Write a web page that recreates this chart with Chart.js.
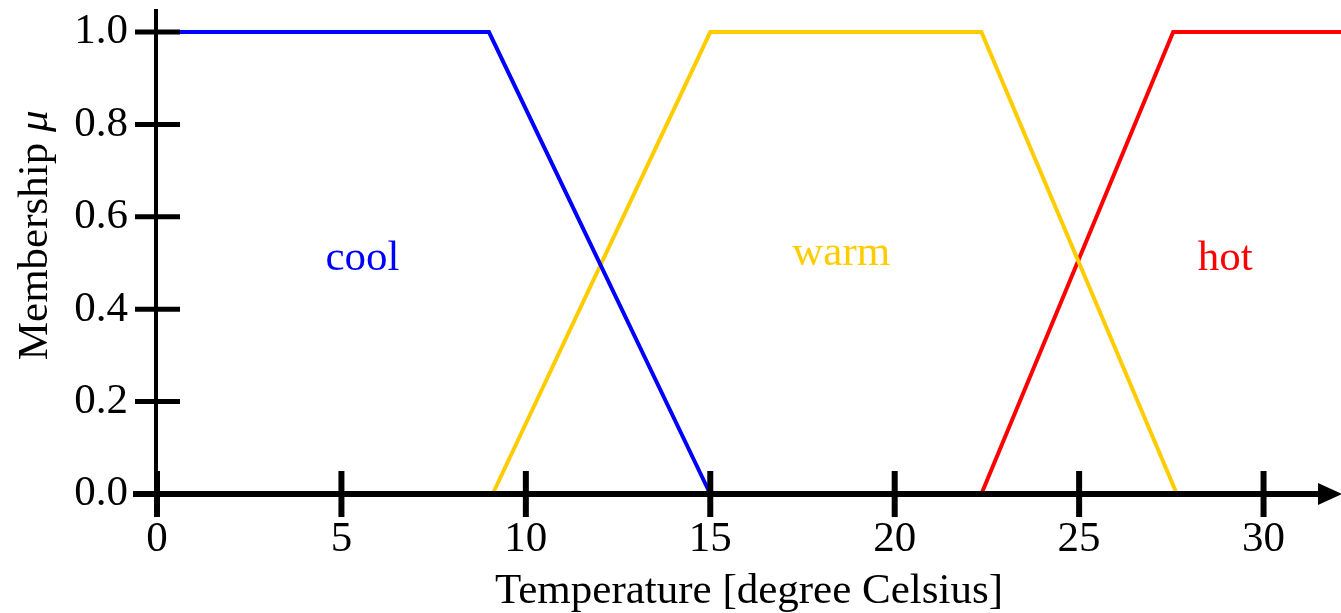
<!DOCTYPE html>
<html>
<head>
<meta charset="utf-8">
<script src="https://cdn.jsdelivr.net/npm/chart.js@4/dist/chart.umd.min.js"></script>
<style>
  html, body { margin: 0; padding: 0; background: #fff; }
  #wrap { width: 1341px; height: 613px; }
</style>
</head>
<body>
<div id="wrap"><canvas id="fuzzyChart" width="1341" height="613"></canvas></div>
<script>
// membership functions (temperature in degree Celsius -> mu)
const coolX = [0, 9, 15];
const coolY = [1, 1, 0];
const warmX = [9.1, 15, 22.35, 27.65];
const warmY = [0, 1, 1, 0];
const hotX = [22.35, 27.55, 32.1];
const hotY = [0, 1, 1];

const xTicks = [0, 5, 10, 15, 20, 25, 30];
const yTicks = [0, 0.2, 0.4, 0.6, 0.8, 1.0];

const setNames = ['cool', 'warm', 'hot'];
const setColors = ['#0000ff', '#ffcc00', '#ff0000'];
const labelX = [5.57, 18.55, 28.96];
const labelY = [0.51, 0.52, 0.51];

const serif = "'Liberation Serif', 'Times New Roman', serif";

function toPoints(xs, ys) {
    return xs.map((x, i) => ({ x: x, y: ys[i] }));
}

// axes with crossing ticks and an arrow, drawn on top of the lines
const axesPlugin = {
    id: 'axes',
    afterDatasetsDraw(chart) {
        const { ctx, scales: { x, y }, chartArea } = chart;
        const x0 = x.getPixelForValue(0);
        const y0 = y.getPixelForValue(0);
        ctx.save();
        ctx.strokeStyle = '#000';
        ctx.fillStyle = '#000';

        // y axis
        ctx.lineWidth = 4;
        ctx.beginPath();
        ctx.moveTo(x0 - 1, y.getPixelForValue(1.05));
        ctx.lineTo(x0 - 1, y0);
        ctx.stroke();

        // y ticks
        ctx.lineWidth = 5;
        yTicks.forEach(v => {
            const py = y.getPixelForValue(v);
            ctx.beginPath();
            ctx.moveTo(x0 - 22, py);
            ctx.lineTo(x0 + 23, py);
            ctx.stroke();
        });

        // x axis with arrow
        const tip = chartArea.right;
        ctx.lineWidth = 6;
        ctx.beginPath();
        ctx.moveTo(x0 - 24, y0);
        ctx.lineTo(tip - 20, y0);
        ctx.stroke();
        ctx.beginPath();
        ctx.moveTo(tip + 1, y0);
        ctx.lineTo(tip - 23, y0 - 11);
        ctx.lineTo(tip - 23, y0 + 11);
        ctx.closePath();
        ctx.fill();

        // x ticks
        ctx.lineWidth = 6;
        xTicks.forEach(v => {
            const px = x.getPixelForValue(v);
            ctx.beginPath();
            ctx.moveTo(px, y0 - 23);
            ctx.lineTo(px, y0 + 23);
            ctx.stroke();
        });

        // set names
        ctx.font = '43px ' + serif;
        ctx.textAlign = 'center';
        ctx.textBaseline = 'middle';
        setNames.forEach((name, i) => {
            ctx.fillStyle = setColors[i];
            ctx.fillText(name, x.getPixelForValue(labelX[i]), y.getPixelForValue(labelY[i]));
        });

        // y axis title, mu in italics
        ctx.translate(36, y.getPixelForValue(0.56));
        ctx.rotate(-Math.PI / 2);
        ctx.fillStyle = '#000';
        ctx.textAlign = 'left';
        const word = 'Membership ';
        ctx.font = '43px ' + serif;
        const w1 = ctx.measureText(word).width;
        ctx.font = 'italic 43px ' + serif;
        const w2 = ctx.measureText('μ').width;
        const start = -(w1 + w2) / 2;
        ctx.font = '43px ' + serif;
        ctx.fillText(word, start, 0);
        ctx.font = 'italic 43px ' + serif;
        ctx.fillText('μ', start + w1, 0);
        ctx.restore();
    }
};

const lineStyle = { borderWidth: 4, pointRadius: 0, fill: false, tension: 0, clip: false };

new Chart(document.getElementById('fuzzyChart'), {
    type: 'line',
    data: {
        datasets: [
            { label: 'cool', data: toPoints(coolX, coolY), borderColor: setColors[0], ...lineStyle },
            { label: 'warm', data: toPoints(warmX, warmY), borderColor: setColors[1], ...lineStyle },
            { label: 'hot', data: toPoints(hotX, hotY), borderColor: setColors[2], ...lineStyle }
        ]
    },
    options: {
        responsive: false,
        animation: false,
        layout: { padding: { top: 9, right: 0, left: 0, bottom: 0 } },
        plugins: { legend: { display: false }, tooltip: { enabled: false } },
        scales: {
            x: {
                type: 'linear',
                min: 0,
                max: 32.1,
                afterBuildTicks: scale => { scale.ticks = xTicks.map(v => ({ value: v })); },
                afterFit: scale => {
                    scale.height = 119;
                    scale.paddingLeft = 0;
                    scale.paddingRight = 0;
                },
                grid: { display: false, drawTicks: false },
                border: { display: false },
                ticks: { color: '#000', padding: 20, font: { family: serif, size: 43 }, maxRotation: 0 },
                title: {
                    display: true,
                    text: 'Temperature [degree Celsius]',
                    color: '#000',
                    font: { family: serif, size: 43, lineHeight: 1.0 },
                    padding: { top: 0, bottom: 0 }
                }
            },
            y: {
                type: 'linear',
                min: 0,
                max: 1.05,
                afterBuildTicks: scale => { scale.ticks = yTicks.map(v => ({ value: v })); },
                afterFit: scale => {
                    scale.width = 157;
                    scale.paddingTop = 0;
                    scale.paddingBottom = 0;
                },
                grid: { display: false, drawTicks: false },
                border: { display: false },
                ticks: { color: '#000', padding: 29, font: { family: serif, size: 43 }, callback: v => v.toFixed(1) }
            }
        }
    },
    plugins: [axesPlugin]
});
</script>
</body>
</html>
